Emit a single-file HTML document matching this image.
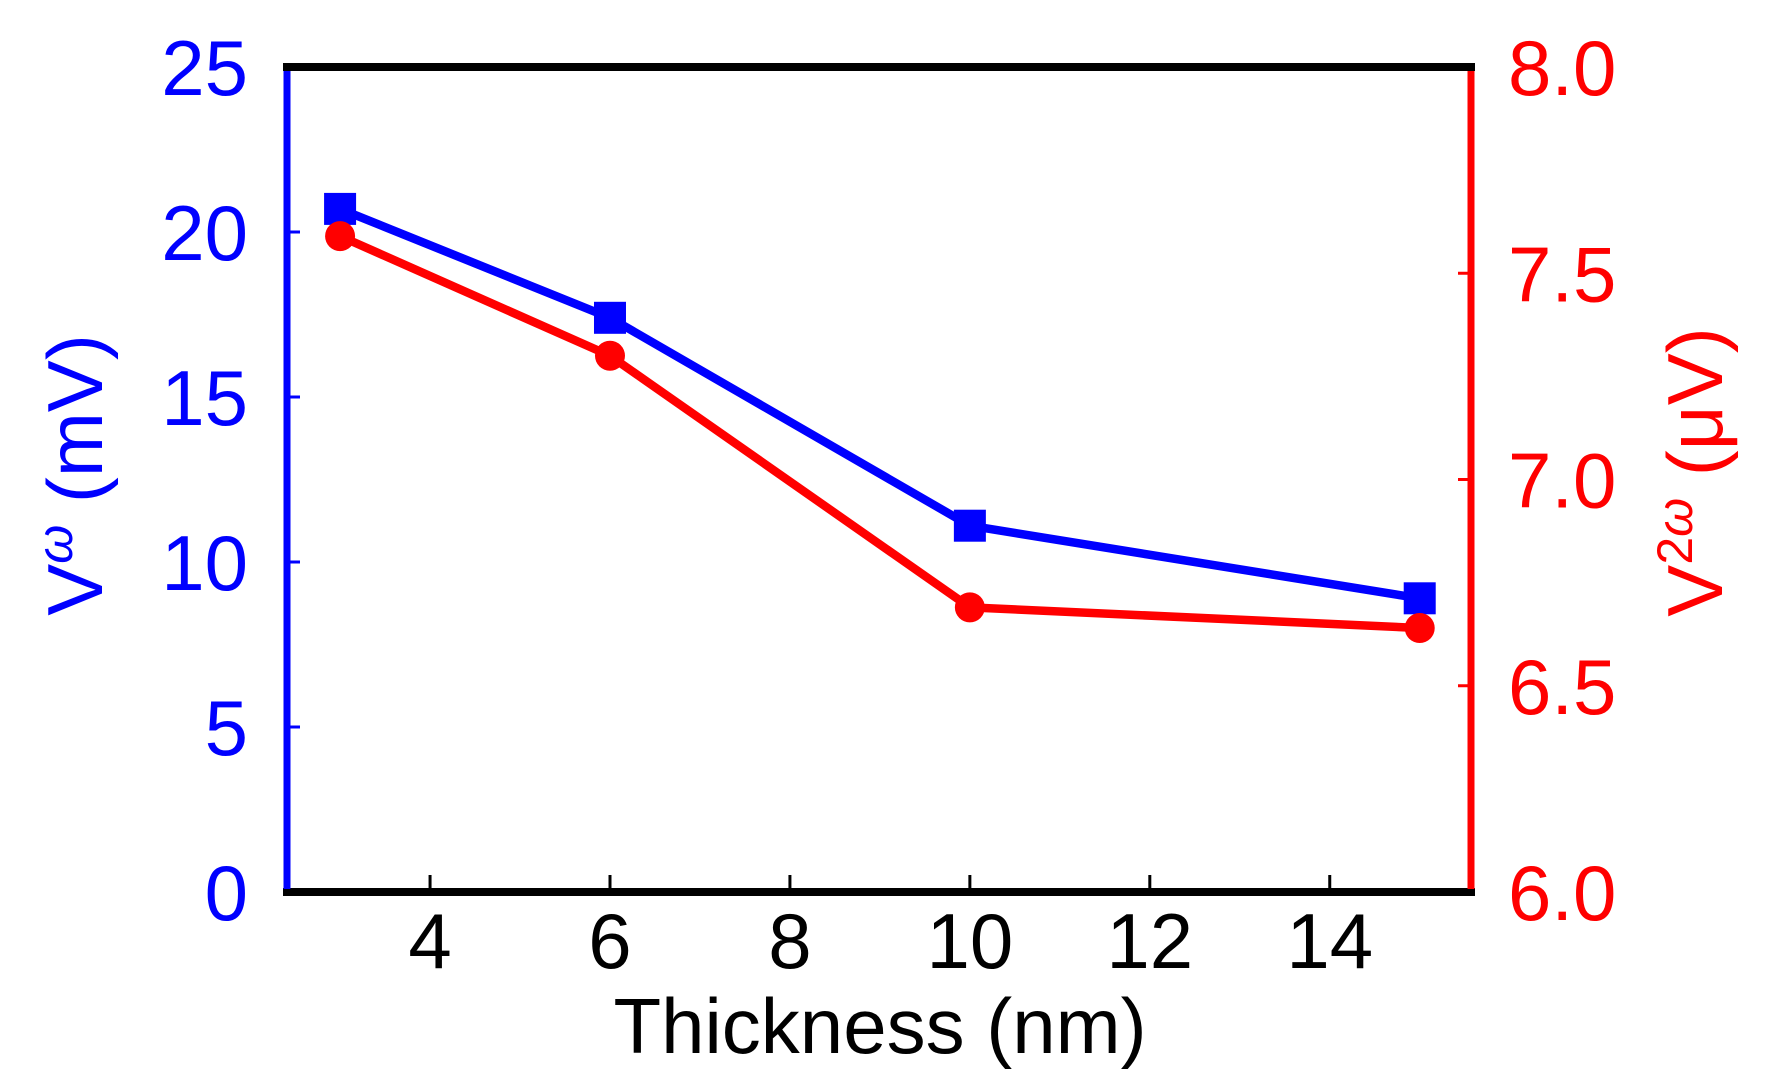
<!DOCTYPE html>
<html><head><meta charset="utf-8"><style>
html,body{margin:0;padding:0;background:#fff}
svg{display:block}
text{font-family:"Liberation Sans",Arial,sans-serif}
</style></head><body>
<svg id="chart" width="1766" height="1083" viewBox="0 0 1766 1083" xmlns="http://www.w3.org/2000/svg">
<g id="axes"></g>
<g id="series"></g>
<text x="880" y="1053" font-size="78" text-anchor="middle" fill="#000">Thickness (nm)</text>
<text transform="translate(102,475) rotate(-90)" font-size="78" text-anchor="middle" fill="#0000ff">V<tspan dy="-30" font-size="50" font-style="italic">ω</tspan><tspan dy="30"> (mV)</tspan></text>
<text transform="translate(1722,472) rotate(-90)" font-size="78" text-anchor="middle" fill="#ff0000">V<tspan dy="-30" font-size="50">2</tspan><tspan font-size="50" font-style="italic">ω</tspan><tspan dy="30"> (μV)</tspan></text>
</svg>
<script>
const thickness = [3, 6, 10, 15];
const vOmega = [20.7, 17.4, 11.1, 8.9];
const v2Omega = [7.59, 7.30, 6.69, 6.64];
const xTicks = [4, 6, 8, 10, 12, 14];
const leftTicks = [0, 5, 10, 15, 20, 25];
const rightTicks = ["6.0", "6.5", "7.0", "7.5", "8.0"];

const L = 287, R = 1471, T = 67, B = 892;
const xMin = 2.41, xMax = 15.57;
const x = t => L + (t - xMin) / (xMax - xMin) * (R - L);
const yL = v => B - v / 25 * (B - T);
const yR = v => B - (v - 6) / 2 * (B - T);
const NS = "http://www.w3.org/2000/svg";
function mk(tag, attrs, parent) {
  const e = document.createElementNS(NS, tag);
  for (const k in attrs) e.setAttribute(k, attrs[k]);
  parent.appendChild(e);
  return e;
}
const axes = document.getElementById('axes');
const series = document.getElementById('series');

let e;
e = mk('line', {x1: L - 4, y1: T, x2: R + 4, y2: T, stroke: '#000', 'stroke-width': 8}, axes);


e = mk('line', {x1: L - 4, y1: B, x2: R + 4, y2: B, stroke: '#000', 'stroke-width': 8}, axes);


e = mk('line', {x1: L, y1: T + 4, x2: L, y2: B - 3, stroke: '#0000ff', 'stroke-width': 7}, axes);


e = mk('line', {x1: R, y1: T + 4, x2: R, y2: B - 3, stroke: '#ff0000', 'stroke-width': 7}, axes);



xTicks.forEach(t => {
  const tk = mk('line', {x1: x(t), y1: B, x2: x(t), y2: B - 17, stroke: '#000', 'stroke-width': 3}, axes);
  
  
  const lb = mk('text', {x: x(t), y: 968, 'font-size': 78, 'text-anchor': 'middle', fill: '#000'}, axes);
  lb.textContent = t;
  
  
});
leftTicks.forEach(v => {
  if (v > 0 && v < 25) {
    const tk = mk('line', {x1: L, y1: yL(v), x2: L + 13, y2: yL(v), stroke: '#0000ff', 'stroke-width': 3}, axes);
    
    
  }
  const lb = mk('text', {x: 248, y: yL(v) + 28, 'font-size': 78, 'text-anchor': 'end', fill: '#0000ff'}, axes);
  lb.textContent = v;
  
  
});
rightTicks.forEach(s => {
  const v = parseFloat(s);
  if (v > 6 && v < 8) {
    const tk = mk('line', {x1: R, y1: yR(v), x2: R - 13, y2: yR(v), stroke: '#ff0000', 'stroke-width': 3}, axes);
    
    
  }
  const lb = mk('text', {x: 1508, y: yR(v) + 28, 'font-size': 78, 'text-anchor': 'start', fill: '#ff0000'}, axes);
  lb.textContent = s;
  
  
});

const bluePts = thickness.map((t, i) => x(t) + ',' + yL(vOmega[i])).join(' ');
e = mk('polyline', {points: bluePts, fill: 'none', stroke: '#0000ff', 'stroke-width': 8.5, 'stroke-linejoin': 'round'}, series);


const redPts = thickness.map((t, i) => x(t) + ',' + yR(v2Omega[i])).join(' ');
e = mk('polyline', {points: redPts, fill: 'none', stroke: '#ff0000', 'stroke-width': 8.5, 'stroke-linejoin': 'round'}, series);



thickness.forEach((t, i) => {
  const sq = mk('rect', {x: x(t) - 16, y: yL(vOmega[i]) - 16, width: 32, height: 32, fill: '#0000ff'}, series);
  
  
});
thickness.forEach((t, i) => {
  const c = mk('circle', {cx: x(t), cy: yR(v2Omega[i]), r: 15, fill: '#ff0000'}, series);
  
  
});
</script>
</body></html>
